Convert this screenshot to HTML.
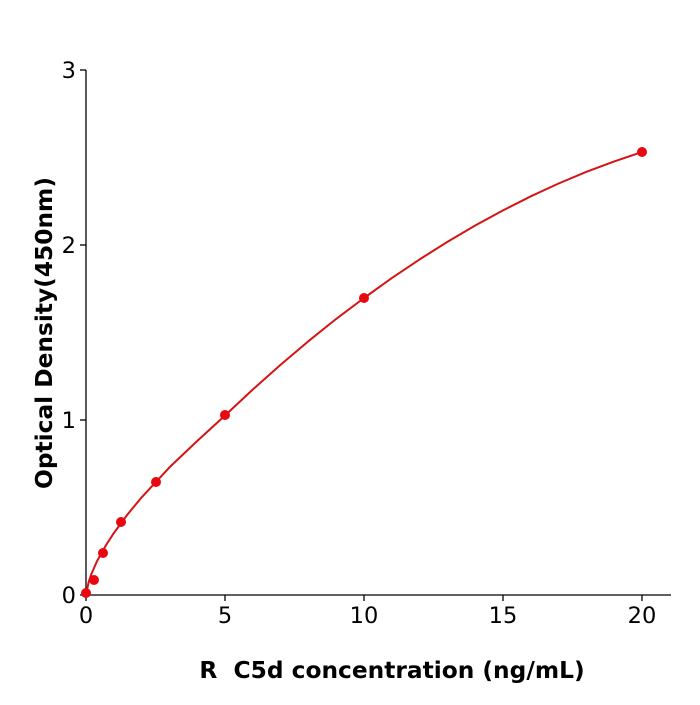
<!DOCTYPE html>
<html><head><style>body{margin:0;background:#fff}</style></head><body>
<svg width="700" height="700" xmlns="http://www.w3.org/2000/svg" font-family="DejaVu Sans, sans-serif">
<rect width="700" height="700" fill="#fff"/>
<g stroke="#000" stroke-width="1.3" fill="none">
<line x1="86" y1="70" x2="86" y2="595"/>
<line x1="86" y1="595" x2="671" y2="595"/>
<line x1="80" y1="595" x2="86" y2="595"/>
<line x1="80" y1="420" x2="86" y2="420"/>
<line x1="80" y1="245" x2="86" y2="245"/>
<line x1="80" y1="70" x2="86" y2="70"/>
<line x1="86" y1="595" x2="86" y2="601"/>
<line x1="225" y1="595" x2="225" y2="601"/>
<line x1="364" y1="595" x2="364" y2="601"/>
<line x1="503" y1="595" x2="503" y2="601"/>
<line x1="642" y1="595" x2="642" y2="601"/>
</g>
<g font-size="22.5" fill="#000" text-anchor="end">
<text x="76" y="603">0</text><text x="76" y="428">1</text><text x="76" y="253">2</text><text x="76" y="78">3</text>
</g>
<g font-size="22.5" fill="#000" text-anchor="middle">
<text x="86" y="623">0</text><text x="225" y="623">5</text><text x="364" y="623">10</text><text x="503" y="623">15</text><text x="642" y="623">20</text>
</g>
<text x="392" y="678" font-size="23.3" font-weight="bold" text-anchor="middle">R&#160; C5d concentration (ng/mL)</text>
<text transform="translate(52,333) rotate(-90)" font-size="23.3" font-weight="bold" text-anchor="middle">Optical Density(450nm)</text>
<polyline points="86,595 88.8,581.4 91.6,573.5 97.1,561 105.5,546 113.8,533.1 127.7,514.2 141.6,497.4 169.4,467.4 197.2,441 225,415.5 252.8,389.5 280.6,364.8 308.4,341.2 336.2,318.9 364,298 391.8,278.1 419.6,259.4 447.4,241.9 475.2,225.5 503,210.4 530.8,196.3 558.6,183.5 586.4,171.8 614.2,161.4 642,152" fill="none" stroke="#d41414" stroke-width="2" stroke-linejoin="round"/>
<g fill="#e8080f">
<circle cx="86" cy="593" r="5"/><circle cx="94" cy="580" r="5"/><circle cx="103" cy="553" r="5"/><circle cx="121" cy="522" r="5"/><circle cx="156" cy="482" r="5"/><circle cx="225" cy="415" r="5"/><circle cx="364" cy="298" r="5"/><circle cx="642" cy="152" r="5"/>
</g>
</svg>
</body></html>
